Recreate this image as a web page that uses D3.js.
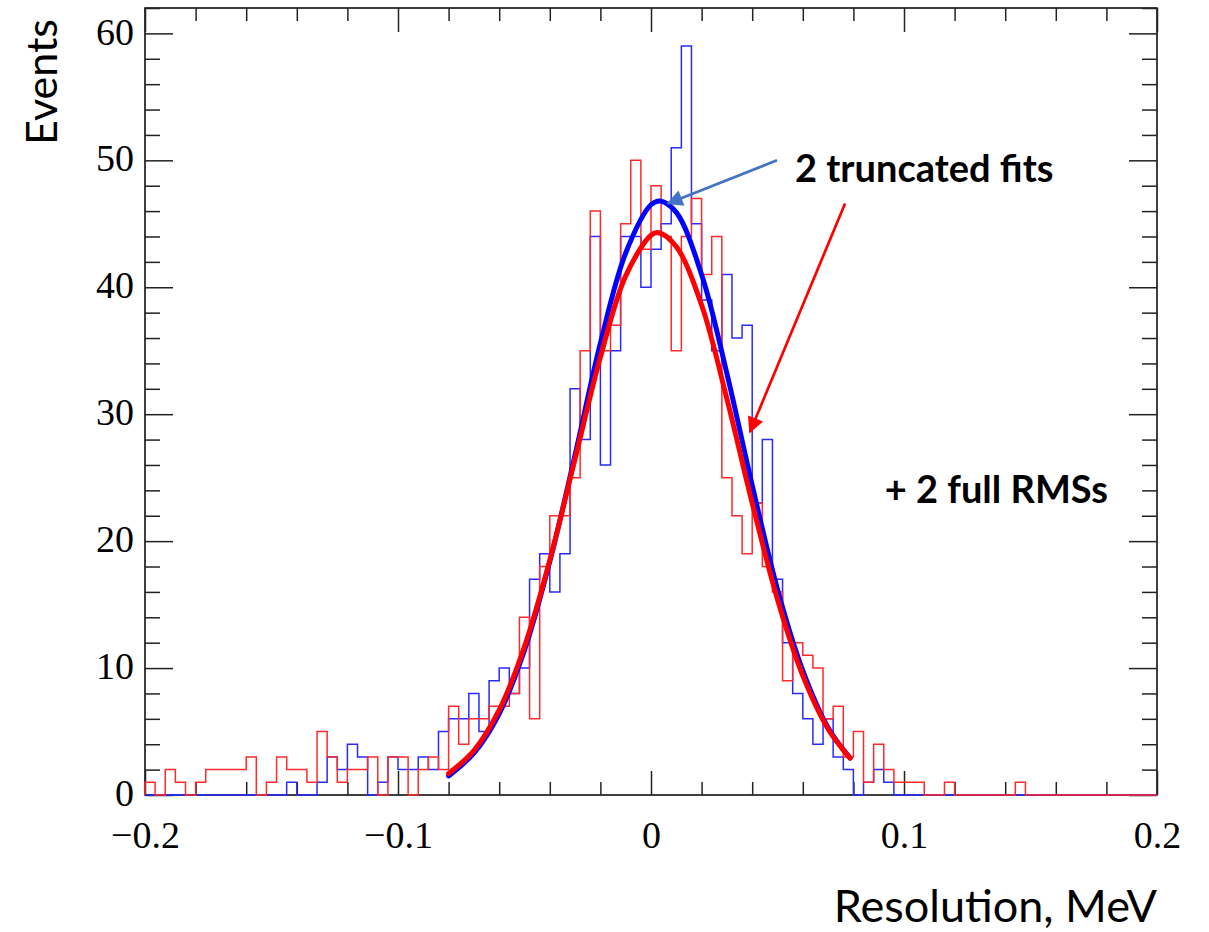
<!DOCTYPE html>
<html>
<head>
<meta charset="utf-8">
<script src="https://cdn.jsdelivr.net/npm/d3@7"></script>
<style>
  body { margin: 0; background: #fff; }
  svg { display: block; }
</style>
</head>
<body>
<div id="graph"></div>
<script>
// histogram binning: 100 bins of 0.004 from -0.2 to 0.2
let binStart = -0.2, binWidth = 0.004;

// counts per bin
let blueCounts = [
  0, 0, 0, 0, 0, 0, 0, 0, 0, 0,
  0, 0, 0, 0, 1, 0, 0, 1, 3, 2,
  4, 3, 0, 1, 3, 2, 2, 3, 2, 5,
  6, 6, 8, 5, 9, 10, 8, 10, 17, 19,
  16, 19, 32, 28, 44, 26, 35, 44, 44, 40,
  43, 45, 51, 59, 45, 39, 35, 41, 36, 37,
  23, 28, 17, 12, 8, 6, 4, 6, 3, 2,
  0, 1, 2, 1, 0, 0, 0, 0, 0, 0,
  0, 0, 0, 0, 0, 0, 0, 0, 0, 0,
  0, 0, 0, 0, 0, 0, 0, 0, 0, 0
];
let redCounts = [
  1, 0, 2, 1, 0, 1, 2, 2, 2, 2,
  3, 0, 1, 3, 2, 2, 1, 5, 3, 1,
  2, 2, 3, 0, 3, 3, 0, 2, 3, 2,
  7, 4, 6, 6, 7, 7, 8, 14, 6, 18,
  22, 22, 25, 35, 46, 35, 37, 45, 50, 43,
  48, 44, 35, 44, 47, 41, 44, 25, 22, 19,
  23, 18, 16, 9, 12, 11, 10, 6, 7, 3,
  5, 1, 4, 2, 1, 1, 1, 0, 0, 1,
  0, 0, 0, 0, 0, 0, 1, 0, 0, 0,
  0, 0, 0, 0, 0, 0, 0, 0, 0, 0
];

// truncated fit curves [x, events]
let blueFit = [
  [-0.08, 1.5], [-0.07, 3.3], [-0.06, 6.4], [-0.05, 11.4], [-0.04, 18.4],
  [-0.03, 26.8], [-0.02, 35.6], [-0.01, 42.7], [0, 46.5], [0.0036, 46.8],
  [0.01, 45.9], [0.02, 41.0], [0.03, 33.2], [0.04, 24.4], [0.05, 16.2],
  [0.06, 9.8], [0.07, 5.3], [0.0787, 2.9]
];
let redFit = [
  [-0.08, 1.7], [-0.07, 3.5], [-0.06, 6.7], [-0.05, 11.7], [-0.04, 18.5],
  [-0.03, 26.5], [-0.02, 34.5], [-0.01, 40.9], [0, 44.1], [0.003, 44.3],
  [0.01, 43.2], [0.02, 38.6], [0.03, 31.2], [0.04, 23.0], [0.05, 15.4],
  [0.06, 9.4], [0.07, 5.2], [0.0787, 2.9]
];

let xMajor = [-0.2, -0.1, 0, 0.1, 0.2];
let xMinor = [-0.18, -0.16, -0.14, -0.12, -0.08, -0.06, -0.04, -0.02,
              0.02, 0.04, 0.06, 0.08, 0.12, 0.14, 0.16, 0.18];
let yMajor = [0, 10, 20, 30, 40, 50, 60];
let yMinor = [2, 4, 6, 8, 12, 14, 16, 18, 22, 24, 26, 28, 32, 34, 36, 38,
              42, 44, 46, 48, 52, 54, 56, 58, 62];

let width = 1209, height = 932;
let frame = {left: 145, right: 1157, top: 8, bottom: 795};

let svg = d3.select("#graph")
    .append("svg")
    .attr("width", width)
    .attr("height", height);

let x = d3.scaleLinear().domain([-0.2, 0.2]).range([frame.left, frame.right]);
let y = d3.scaleLinear().domain([0, 62]).range([frame.bottom, frame.top]);

let fmt = d3.format("");
let serif = "'Liberation Serif', 'Times New Roman', serif";

// frame
svg.append("rect")
    .attr("x", frame.left)
    .attr("y", frame.top)
    .attr("width", frame.right - frame.left)
    .attr("height", frame.bottom - frame.top)
    .attr("fill", "none")
    .attr("stroke", "#000")
    .attr("stroke-width", 1.5);

function tidy(g) {
    g.select(".domain").remove();
    g.selectAll(".tick line").attr("stroke", "#222").attr("stroke-width", 1.5);
    g.selectAll("text").style("font-family", serif).style("font-size", "38px").attr("fill", "#000");
}

// bottom axis, ticks pointing inwards
svg.append("g")
    .attr("transform", `translate(0,${frame.bottom})`)
    .call(d3.axisBottom(x).tickValues(xMajor).tickSize(-24).tickPadding(26).tickFormat(fmt))
    .call(tidy);
svg.append("g")
    .attr("transform", `translate(0,${frame.bottom})`)
    .call(d3.axisBottom(x).tickValues(xMinor).tickSize(-13).tickFormat(""))
    .call(tidy);
// top axis mirror
svg.append("g")
    .attr("transform", `translate(0,${frame.top})`)
    .call(d3.axisTop(x).tickValues(xMajor).tickSize(-24).tickFormat(""))
    .call(tidy);
svg.append("g")
    .attr("transform", `translate(0,${frame.top})`)
    .call(d3.axisTop(x).tickValues(xMinor).tickSize(-13).tickFormat(""))
    .call(tidy);

// left axis
svg.append("g")
    .attr("transform", `translate(${frame.left},0)`)
    .call(d3.axisLeft(y).tickValues(yMajor).tickSize(-28).tickPadding(11).tickFormat(fmt))
    .call(tidy)
    .selectAll("text").attr("dy", "0.28em");
svg.append("g")
    .attr("transform", `translate(${frame.left},0)`)
    .call(d3.axisLeft(y).tickValues(yMinor).tickSize(-15).tickFormat(""))
    .call(tidy);
// right axis mirror
svg.append("g")
    .attr("transform", `translate(${frame.right},0)`)
    .call(d3.axisRight(y).tickValues(yMajor).tickSize(-28).tickFormat(""))
    .call(tidy);
svg.append("g")
    .attr("transform", `translate(${frame.right},0)`)
    .call(d3.axisRight(y).tickValues(yMinor).tickSize(-15).tickFormat(""))
    .call(tidy);

// histogram outlines
function histPoints(counts) {
    let pts = [[binStart, 0]];
    counts.forEach(function(c, i) { pts.push([binStart + i * binWidth, c]); });
    let end = binStart + counts.length * binWidth;
    pts.push([end, counts[counts.length - 1]]);
    pts.push([end, 0]);
    return pts;
}

let stepLine = d3.line()
    .x(function(d) { return x(d[0]); })
    .y(function(d) { return y(d[1]); })
    .curve(d3.curveStepAfter);

svg.append("path")
    .attr("d", stepLine(histPoints(blueCounts)))
    .attr("fill", "none")
    .attr("stroke", "#2a2aff")
    .attr("stroke-width", 1.5);

svg.append("path")
    .attr("d", stepLine(histPoints(redCounts)))
    .attr("fill", "none")
    .attr("stroke", "#ff2a2a")
    .attr("stroke-width", 1.5);

// fit curves
let fitLine = d3.line()
    .x(function(d) { return x(d[0]); })
    .y(function(d) { return y(d[1]); })
    .curve(d3.curveCatmullRom);

svg.append("path")
    .attr("d", fitLine(blueFit))
    .attr("fill", "none")
    .attr("stroke", "#0000ff")
    .attr("stroke-width", 5)
    .attr("stroke-linecap", "round");

svg.append("path")
    .attr("d", fitLine(redFit))
    .attr("fill", "none")
    .attr("stroke", "#ff0000")
    .attr("stroke-width", 5)
    .attr("stroke-linecap", "round");

// arrows
let defs = svg.append("defs");
function marker(id, color) {
    defs.append("marker")
        .attr("id", id)
        .attr("viewBox", "0 0 10 10")
        .attr("refX", 9)
        .attr("refY", 5)
        .attr("markerWidth", 8)
        .attr("markerHeight", 6)
        .attr("markerUnits", "strokeWidth")
        .attr("orient", "auto")
        .append("path")
        .attr("d", "M0,0 L10,5 L0,10 Z")
        .attr("fill", color);
}
marker("arrowBlue", "#4472c4");
marker("arrowRed", "#ff0000");

svg.append("line")
    .attr("x1", x(0.0498)).attr("y1", y(50.0))
    .attr("x2", x(0.0067)).attr("y2", y(46.6))
    .attr("stroke", "#4472c4")
    .attr("stroke-width", 2.7)
    .attr("marker-end", "url(#arrowBlue)");

svg.append("line")
    .attr("x1", x(0.0767)).attr("y1", y(46.6))
    .attr("x2", x(0.0391)).attr("y2", y(28.6))
    .attr("stroke", "#ff0000")
    .attr("stroke-width", 2.7)
    .attr("marker-end", "url(#arrowRed)");

// annotations and axis titles
let sans = "Lato, 'Open Sans', sans-serif";

svg.append("text")
    .attr("x", x(0.0569))
    .attr("y", y(48.3))
    .style("font-family", sans)
    .style("font-weight", "bold")
    .style("font-size", "38px")
    .text("2 truncated fits");

svg.append("text")
    .attr("x", x(0.0924))
    .attr("y", y(23.0))
    .style("font-family", sans)
    .style("font-weight", "bold")
    .style("font-size", "38px")
    .text("+ 2 full RMSs");

svg.append("text")
    .attr("transform", `translate(57, 82) rotate(-90)`)
    .style("text-anchor", "middle")
    .style("font-family", sans)
    .style("font-size", "43px")
    .text("Events");

svg.append("text")
    .attr("x", frame.right)
    .attr("y", 922)
    .style("text-anchor", "end")
    .style("font-family", sans)
    .style("font-size", "45px")
    .text("Resolution, MeV");
</script>
</body>
</html>
